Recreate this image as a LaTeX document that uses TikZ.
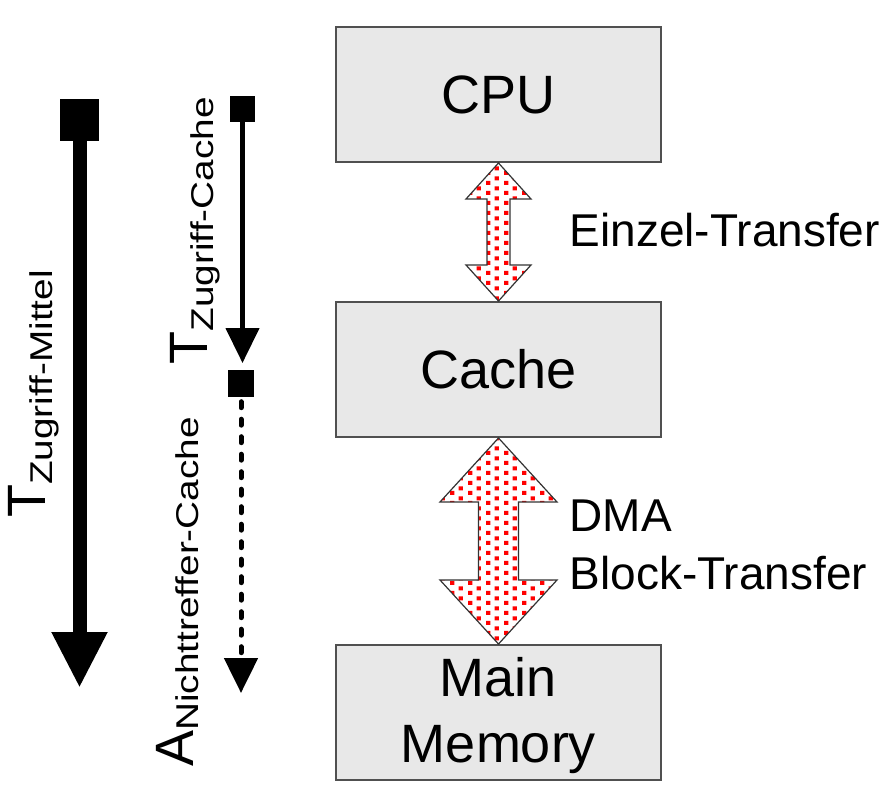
\documentclass[tikz,border=0pt]{standalone}
\usepackage{fontspec}
\setmainfont{Liberation Sans}
\usepackage{graphicx}
\usetikzlibrary{arrows.meta, calc, patterns}
\definecolor{kastengrau}{HTML}{E8E8E8}
\definecolor{randgrau}{HTML}{505050}
\pgfdeclarepatternformonly{rotpunkte}{\pgfpointorigin}{\pgfpoint{18pt}{10pt}}{\pgfpoint{18pt}{10pt}}{%
	\pgfpathrectangle{\pgfpoint{0pt}{0pt}}{\pgfpoint{4.5pt}{4.5pt}}%
	\pgfpathrectangle{\pgfpoint{9pt}{5pt}}{\pgfpoint{4.5pt}{4.5pt}}%
	\pgfusepath{fill}}
\newcommand{\idx}[2]{\raisebox{-#1pt}{\scalebox{1.23}[1]{\fontsize{31.5}{34}\selectfont #2}}}
\tikzstyle{baustein} = [draw=randgrau, fill=kastengrau, line width=2pt, minimum width=325pt, minimum height=135pt, inner sep=0pt, align=center, font=\fontsize{54}{66}\selectfont]
\tikzstyle{transfer} = [draw=black!80, line width=1.2pt, preaction={fill=white}, pattern=rotpunkte, pattern color=red]
\tikzstyle{beschriftung} = [inner sep=0pt, align=left, font=\fontsize{46}{58}\selectfont]
\tikzstyle{zeitmarke} = [fill=black, inner sep=0pt]
\tikzstyle{zeitlabel} = [inner sep=0pt, anchor=base west, rotate=90, font=\fontsize{54}{60}\selectfont]

\begin{document}
\begin{tikzpicture}[x=1pt, y=-1pt]
	\useasboundingbox (0,0) rectangle (889,795);
	% Speicherhierarchie
	\node[baustein] (cpu) at (498.5,94.5) {CPU};
	\node[baustein] (cache) at (498.5,369.5) {Cache};
	\node[baustein, text depth=6pt] (main) at (498.5,712.5) {Main\\Memory};
	% Transfers
	\draw[transfer] (cpu.south) -- ++(32.5,36) -- ++(-21,0) -- ($(cache.north)+(11.5,-36)$) -- ++(21,0) -- (cache.north) -- ++(-32.5,-36) -- ++(21,0) -- ($(cpu.south)+(-11.5,36)$) -- ++(-21,0) -- cycle;
	\draw[transfer] (cache.south) -- ++(58.5,64) -- ++(-38.5,0) -- ($(main.north)+(20,-64)$) -- ++(38.5,0) -- (main.north) -- ++(-58.5,-64) -- ++(38.5,0) -- ($(cache.south)+(-20,64)$) -- ++(-38.5,0) -- cycle;
	\node[beschriftung, anchor=base west] (einzel) at (569.5,246) {Einzel-Transfer};
	\node[beschriftung, anchor=west] (dma) at (569.5,545) {DMA\\Block-Transfer};
	% Zugriffszeiten
	\node[zeitmarke, minimum width=39pt, minimum height=42pt] (msq) at (79.5,120) {};
	\node[zeitmarke, minimum width=25pt, minimum height=26pt] (csq) at (242.5,109) {};
	\node[zeitmarke, minimum width=26pt, minimum height=27pt] (nsq) at (241,383.5) {};
	\coordinate (mende) at (79.5,688);
	\coordinate (cende) at (242.5,363);
	\coordinate (nende) at (241,693);
	\draw[line width=14pt, -{Triangle[width=52pt,length=56pt]}] (msq.south) -- (mende);
	\draw[line width=4.5pt, -{Triangle[width=33pt,length=35pt]}] (csq.south) -- (cende);
	\draw[line width=5pt, dash pattern=on 6pt off 11.5pt, dash phase=13pt, line cap=round, -{Triangle[width=33pt,length=35pt]}] (nsq.south) -- (nende);
	\node[zeitlabel] (tmittel) at (45,518) {T\idx{8}{Zugriff-Mittel}};
	\node[zeitlabel] (tcache) at (207,364.5) {T\idx{6}{Zugriff-Cache}};
	\node[zeitlabel] (anicht) at (193,767) {A\idx{5}{Nichttreffer-Cache}};
\end{tikzpicture}
\end{document}
